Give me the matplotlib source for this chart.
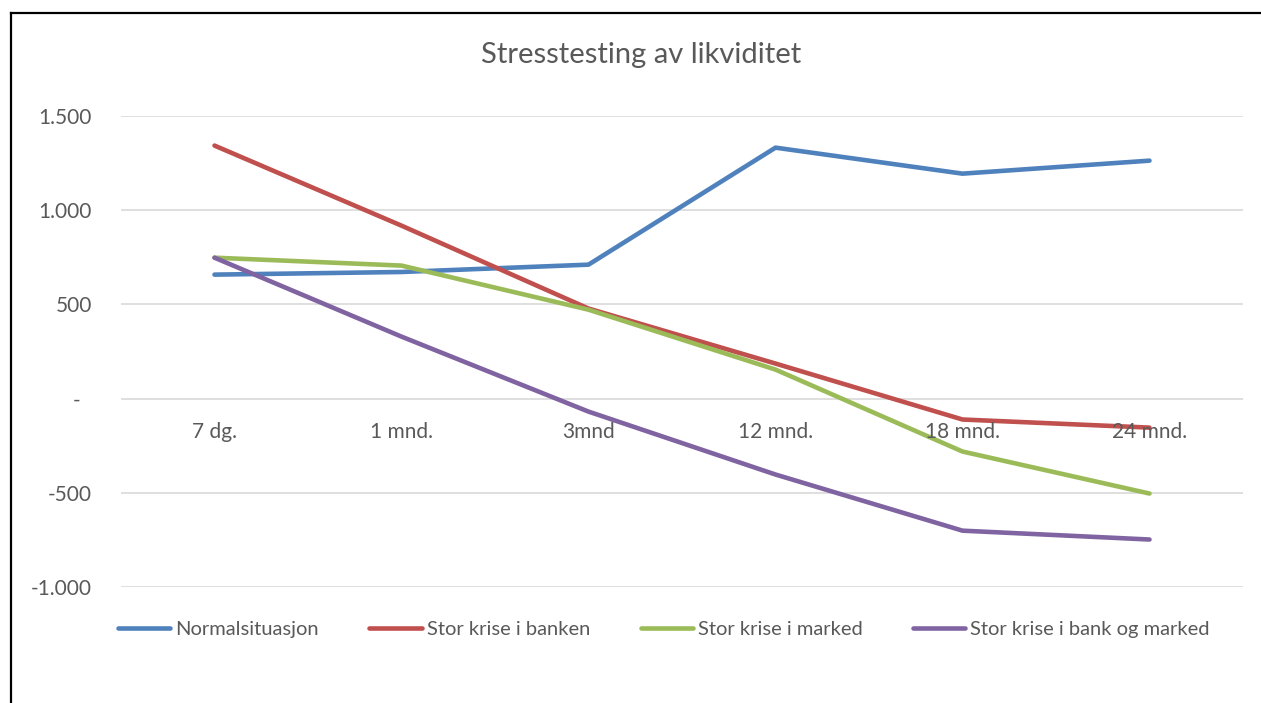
import matplotlib
matplotlib.use("Agg")
import matplotlib.pyplot as plt
from matplotlib.lines import Line2D

categories = ["7 dg.", "1 mnd.", "3mnd", "12 mnd.", "18 mnd.", "24 mnd."]
normal = [658, 672, 711, 1332, 1194, 1263]
krise_bank = [1343, 918, 478, 186, -111, -154]
krise_marked = [748, 706, 472, 154, -281, -504]
krise_begge = [748, 329, -69, -403, -701, -748]
series_names = ["Normalsituasjon", "Stor krise i banken", "Stor krise i marked",
                "Stor krise i bank og marked"]
yticks = [-1000, -500, 0, 500, 1000, 1500]
ytick_labels = ["-1.000", "-500", "-  ", "500", "1.000", "1.500"]

colors = ["#4F81BD", "#C0504D", "#9BBB59", "#8064A2"]
txt = "#595959"
plt.rcParams['font.family'] = ['Lato', 'DejaVu Sans']

W, H = 1261, 703
fig = plt.figure(figsize=(W / 100, H / 100), dpi=100)
ax = fig.add_axes([121 / W, 1 - 587 / H, (1243 - 121) / W, (587 - 116) / H])

x = list(range(len(categories)))
for vals, c, name in zip([normal, krise_bank, krise_marked, krise_begge], colors, series_names):
    ax.plot(x, vals, color=c, lw=3.3, solid_joinstyle='round', solid_capstyle='round',
            label=name, zorder=3)

ax.set_xlim(-0.5, len(categories) - 0.5)
ax.set_ylim(-1000, 1500)
ax.set_yticks(yticks)
ax.set_yticklabels(ytick_labels, color=txt, fontsize=15)
ax.tick_params(axis='y', length=0, pad=21)
ax.set_xticks([])
for s in ax.spines.values():
    s.set_visible(False)
ax.grid(axis='y', color='#D9D9D9', lw=1.2, zorder=0)
ax.set_axisbelow(True)

for xi, lab in zip(x, categories):
    ax.text(xi, -175, lab, ha='center', va='center', fontsize=15, color=txt, zorder=4)

fig.text(641 / W, 1 - 55 / H, "Stresstesting av likviditet", ha='center', va='center',
         fontsize=21, color=txt)

handles, labels = ax.get_legend_handles_labels()
leg = fig.legend(handles, labels, loc='center', bbox_to_anchor=(664 / W, 1 - 629 / H), ncol=4,
                 frameon=False, fontsize=14.5, handlelength=2.6, handletextpad=0.25,
                 columnspacing=2.5, labelcolor=txt)

fig.add_artist(Line2D([11 / W, 1], [1 - 13 / H, 1 - 13 / H], color='black', lw=1.6,
                      transform=fig.transFigure))
fig.add_artist(Line2D([11 / W, 11 / W], [0, 1 - 13 / H], color='black', lw=1.6,
                      transform=fig.transFigure))

fig.savefig("out.png", dpi=100)
